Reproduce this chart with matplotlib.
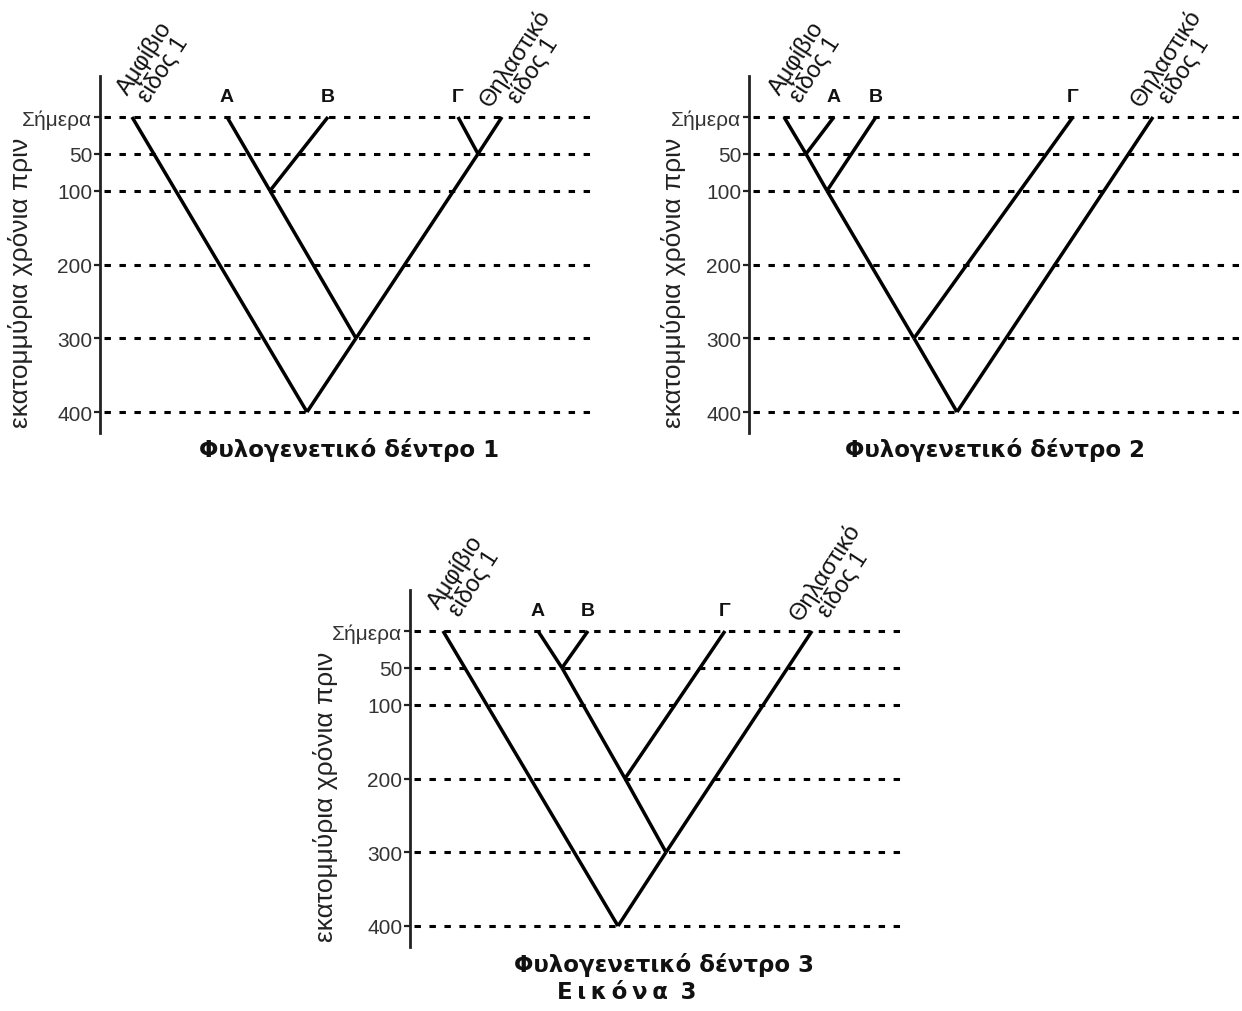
import matplotlib.pyplot as plt

W, H = 1242, 1012

# time levels (million years ago)
levels = [0, 50, 100, 200, 300, 400]
level_labels = ["Σήμερα", "50", "100", "200", "300", "400"]
ylabel = "εκατομμύρια χρόνια πριν"

tip_labels = {
    "amph": "Αμφίβιο\nείδος 1",
    "A": "Α",
    "B": "Β",
    "G": "Γ",
    "M": "Θηλαστικό\nείδος 1",
}
long_tips = ["amph", "M"]

# divergence ages for each tree (tips are at 0)
ages1 = {"n1": 400, "n2": 300, "n3": 100, "n4": 50}
edges1 = [("n1", "amph"), ("n1", "n2"), ("n2", "n3"), ("n3", "A"), ("n3", "B"),
          ("n2", "n4"), ("n4", "G"), ("n4", "M")]

ages2 = {"n1": 400, "n2": 300, "n3": 100, "n4": 50}
edges2 = [("n1", "n2"), ("n1", "M"), ("n2", "n3"), ("n2", "G"), ("n3", "n4"),
          ("n3", "B"), ("n4", "amph"), ("n4", "A")]

ages3 = {"n1": 400, "n2": 300, "n3": 200, "n4": 50}
edges3 = [("n1", "amph"), ("n1", "n2"), ("n2", "n3"), ("n2", "M"), ("n3", "n4"),
          ("n3", "G"), ("n4", "A"), ("n4", "B")]

titles = ["Φυλογενετικό δέντρο 1", "Φυλογενετικό δέντρο 2", "Φυλογενετικό δέντρο 3"]
caption = "Ε\u2009ι\u2009κ\u2009ό\u2009ν\u2009α \u20093"

# horizontal layout of each tree (px to the right of the time axis)
x1 = {"amph": 32, "A": 127, "B": 228, "G": 358, "M": 402,
      "n1": 207, "n2": 256, "n3": 170, "n4": 378}
x2 = {"amph": 35, "A": 85, "B": 127, "G": 324, "M": 404,
      "n1": 208, "n2": 165, "n3": 78, "n4": 57}
x3 = {"amph": 33, "A": 128, "B": 178, "G": 315, "M": 402,
      "n1": 208, "n2": 256, "n3": 215, "n4": 152}

# panel placement: axis x, y of "today", end of dashed lines, title centre, ylabel x
panels = [
    (100, 118, 597, (349, 450), 21),
    (749, 118, 1240, (995, 450), 673),
    (410, 632, 908, (664, 965), 325),
]

PX = 0.7375  # px per million years
TOP, BOT = -56, 428

plt.rcParams['font.family'] = ['Liberation Sans', 'DejaVu Sans']

fig = plt.figure(figsize=(W / 100, H / 100), dpi=100)
fig.patch.set_facecolor('white')


def draw_tree(ax, ages, edges, xs):
    def age(k):
        return ages.get(k, 0)
    for a, b in edges:
        ax.plot([xs[a], xs[b]], [age(a), age(b)], color='black', lw=2.5,
                solid_capstyle='butt', zorder=3)
    for k, lab in tip_labels.items():
        if k in long_tips:
            ax.text(xs[k] + 22, -54 / PX, lab, rotation=57, ha='center', va='center',
                    fontsize=17, linespacing=1.0, color='#111')
        else:
            ax.text(xs[k], -21 / PX, lab, ha='center', va='center',
                    fontsize=14, fontweight='bold', color='#111')


trees = [(ages1, edges1, x1), (ages2, edges2, x2), (ages3, edges3, x3)]

for (xa, y0, xe, tpos, ylx), (ages, edges, xs), title in zip(panels, trees, titles):
    top_px = y0 + TOP * PX
    bot_px = y0 + BOT * PX
    ax = fig.add_axes([xa / W, 1 - bot_px / H, (xe - xa) / W, (bot_px - top_px) / H])
    ax.set_xlim(0, xe - xa)
    ax.set_ylim(BOT, TOP)
    ax.patch.set_alpha(0)
    for s in ['top', 'right', 'bottom']:
        ax.spines[s].set_visible(False)
    ax.spines['left'].set_linewidth(2.0)
    ax.spines['left'].set_color('#222')
    ax.set_xticks([])
    ax.set_yticks(levels)
    ax.set_yticklabels(level_labels, fontsize=15, color='#333')
    ax.tick_params(axis='y', length=4, width=1.6, color='#222', pad=1.5)
    ax.hlines(levels, 4, xe - xa, colors='black', lw=2.2,
              linestyles=(0, (2.1, 2.8)), zorder=2)
    draw_tree(ax, ages, edges, xs)
    # axis title sits below the "today" label, so place it by hand
    fig.text(ylx / W, 1 - (y0 + 165) / H, ylabel, rotation=90, ha='center', va='center',
             fontsize=19, color='#222')
    fig.text(tpos[0] / W, 1 - tpos[1] / H, title, ha='center', va='center',
             fontsize=16.5, fontweight='bold', family='DejaVu Sans', color='#111')

fig.text(627 / W, 1 - 993 / H, caption, ha='center', va='center',
         fontsize=16.5, fontweight='bold', family='DejaVu Sans', color='#111')

fig.savefig('out.png', dpi=100, facecolor='white')
